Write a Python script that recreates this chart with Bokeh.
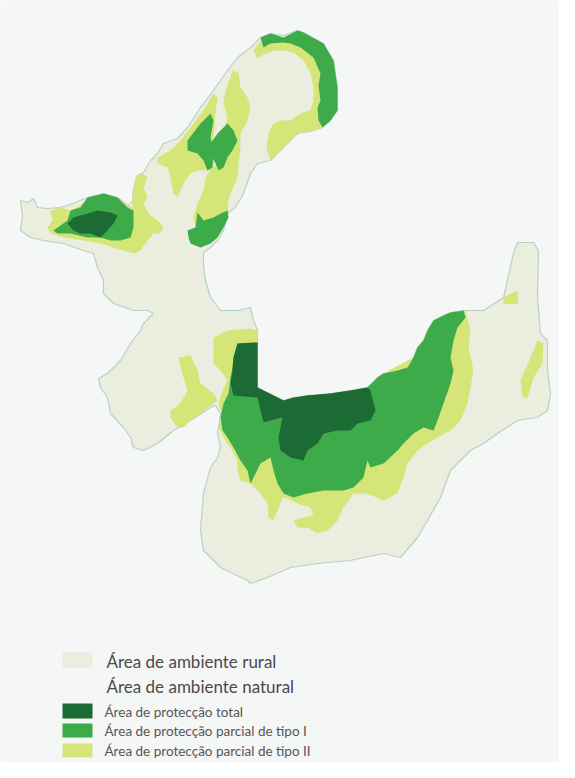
from bokeh.plotting import figure
from bokeh.models import Range1d
from bokeh.core.properties import value
from bokeh.embed import file_html
from bokeh.resources import INLINE

# outline of the whole area (picture coordinates, y grows downwards)
land = [
    (20, 200), (27, 202), (33, 198), (37, 207), (47, 208), (60, 207), (72, 203), (87, 197),
    (103, 193), (117, 197), (128, 205), (132, 200), (133, 190), (137, 175), (143, 172),
    (150, 160), (157, 153), (163, 143), (177, 138), (187, 127), (200, 107), (213, 90),
    (227, 70), (237, 57), (250, 47), (260, 37), (270, 33), (283, 35), (297, 30), (303, 32),
    (323, 43), (333, 60), (337, 87), (337, 110), (330, 120), (322, 127), (310, 131),
    (297, 133), (287, 143), (277, 153), (270, 160), (257, 163), (250, 173), (243, 193),
    (235, 207), (227, 213), (223, 230), (217, 240), (210, 247), (203, 252), (203, 265),
    (205, 280), (210, 297), (220, 310), (237, 310), (250, 307), (253, 320), (257, 330),
    (257, 387), (263, 390), (283, 400), (293, 397), (307, 395), (330, 393), (350, 390),
    (367, 387), (377, 377), (383, 373), (397, 370), (407, 367), (413, 357), (417, 347),
    (423, 340), (427, 330), (433, 320), (443, 315), (450, 312), (463, 310), (483, 310),
    (503, 297), (513, 253), (517, 242), (533, 242), (538, 250), (537, 297), (540, 333),
    (547, 340), (547, 370), (550, 393), (547, 410), (537, 417), (517, 420), (497, 433),
    (483, 443), (470, 450), (450, 470), (440, 497), (427, 520), (417, 537), (400, 557),
    (383, 553), (350, 560), (317, 563), (290, 567), (267, 577), (250, 583), (247, 580),
    (220, 567), (203, 550), (200, 530), (203, 493), (210, 467), (217, 457), (220, 447),
    (217, 433), (220, 413), (215, 405), (210, 407), (190, 420), (173, 430), (157, 443),
    (143, 450), (133, 447), (130, 437), (123, 427), (110, 413), (107, 397), (100, 387),
    (98, 378), (107, 373), (120, 360), (130, 343), (140, 330), (143, 323), (153, 313),
    (147, 310), (133, 310), (113, 303), (103, 293), (103, 280), (97, 267), (93, 253),
    (83, 250), (63, 243), (43, 240), (30, 237), (20, 230), (22, 215),
]

# partial protection type II (light)
tipo2_west = [
    (50, 210), (60, 207), (70, 210), (83, 203), (87, 197), (103, 193), (117, 197),
    (127, 205), (132, 207), (132, 190), (135, 177), (142, 173), (147, 177), (143, 187),
    (147, 197), (143, 203), (148, 213), (157, 220), (163, 227), (160, 233), (153, 233),
    (147, 240), (140, 250), (133, 253), (123, 250), (113, 247), (100, 243), (83, 240),
    (63, 237), (50, 233), (47, 227), (52, 220),
]
tipo2_strip1 = [
    (213, 93), (217, 97), (215, 113), (213, 137), (215, 153), (212, 170), (203, 170),
    (197, 170), (190, 173), (183, 183), (177, 197), (173, 193), (170, 177), (167, 167),
    (157, 163), (157, 157), (170, 150), (180, 140), (190, 127), (203, 110),
]
tipo2_strip2 = [
    (232, 70), (238, 72), (240, 87), (247, 97), (250, 107), (247, 120), (240, 133),
    (240, 147), (238, 163), (237, 177), (230, 193), (227, 203), (228, 213), (223, 227),
    (217, 237), (210, 243), (200, 247), (190, 243), (187, 230), (195, 227), (193, 217),
    (197, 203), (203, 190), (205, 177), (210, 170), (217, 163), (220, 150), (222, 133),
    (227, 117), (223, 103), (225, 90), (230, 77),
]
tipo2_northeast = [
    (253, 50), (260, 40), (277, 38), (297, 38), (310, 48), (318, 62), (322, 80), (320, 100),
    (320, 115), (322, 127), (310, 131), (297, 133), (287, 143), (277, 153), (270, 160),
    (266, 147), (268, 133), (273, 123), (280, 120), (290, 120), (300, 113), (310, 110),
    (313, 100), (313, 87), (310, 73), (303, 60), (293, 52), (283, 50), (273, 50), (263, 54),
    (257, 58),
]
tipo2_middle = [
    (178, 357), (190, 355), (197, 370), (200, 383), (213, 393), (217, 400), (200, 413),
    (190, 420), (183, 427), (177, 427), (170, 417), (170, 410), (180, 403), (187, 390),
    (183, 377), (180, 367),
]
tipo2_south = [
    (213, 337), (227, 330), (250, 328), (257, 330), (257, 387), (283, 400), (330, 393),
    (367, 387), (383, 373), (413, 357), (427, 330), (443, 315), (465, 310), (470, 330),
    (468, 347), (473, 370), (470, 387), (467, 403), (460, 420), (450, 430), (437, 437),
    (427, 443), (417, 450), (407, 463), (403, 477), (397, 493), (383, 500), (367, 493),
    (353, 493), (343, 507), (337, 520), (327, 530), (317, 533), (307, 527), (297, 527),
    (293, 520), (303, 517), (313, 515), (310, 507), (297, 503), (287, 498), (282, 497),
    (277, 510), (273, 520), (268, 517), (267, 503), (260, 493), (250, 483), (240, 480),
    (237, 470), (237, 460), (230, 447), (223, 437), (218, 427), (222, 417), (218, 403),
    (222, 390), (227, 380), (220, 370), (213, 363),
]
tipo2_east_a = [(503, 297), (517, 290), (518, 303), (503, 304)]
tipo2_east_b = [
    (520, 380), (530, 357), (537, 340), (543, 343), (542, 363), (533, 377), (527, 397),
    (522, 397),
]

# partial protection type I (medium)
tipo1_west = [
    (53, 230), (67, 220), (70, 210), (80, 207), (87, 197), (103, 193), (117, 197),
    (127, 207), (133, 210), (133, 227), (130, 237), (120, 240), (110, 240), (100, 237),
    (87, 237), (70, 233), (57, 233),
]
tipo1_left = [
    (187, 140), (200, 123), (210, 113), (213, 120), (210, 137), (213, 150), (212, 167),
    (207, 170), (203, 160), (197, 153), (187, 150),
]
tipo1_right = [
    (210, 143), (217, 133), (227, 123), (233, 130), (237, 140), (232, 150), (227, 157),
    (223, 167), (218, 170), (215, 163), (212, 157),
]
tipo1_bottom = [
    (197, 212), (203, 220), (213, 217), (220, 213), (227, 210), (228, 217), (223, 227),
    (217, 237), (210, 243), (200, 247), (190, 243), (188, 237), (187, 230), (195, 227),
]
tipo1_northeast = [
    (260, 37), (270, 33), (283, 37), (297, 30), (303, 32), (323, 43), (333, 60), (337, 87),
    (337, 110), (330, 120), (322, 127), (318, 120), (317, 107), (320, 100), (318, 85),
    (320, 73), (313, 57), (300, 47), (290, 43), (283, 42), (270, 43), (263, 47),
]
tipo1_south = [
    (463, 310), (465, 317), (457, 327), (453, 340), (450, 357), (453, 370), (450, 383),
    (443, 403), (437, 420), (433, 430), (423, 427), (413, 433), (403, 443), (397, 450),
    (383, 463), (370, 467), (367, 460), (363, 477), (353, 487), (343, 490), (323, 490),
    (307, 493), (293, 497), (283, 493), (277, 483), (273, 470), (270, 457), (260, 463),
    (253, 477), (250, 483), (247, 470), (240, 460), (233, 447), (227, 437), (222, 430),
    (220, 417), (223, 403), (228, 393), (230, 377), (232, 367), (233, 357), (237, 343),
    (257, 342), (257, 387), (283, 400), (307, 395), (330, 393), (350, 390), (367, 387),
    (377, 377), (383, 373), (397, 370), (407, 367), (413, 357), (417, 347), (423, 340),
    (427, 330), (433, 320), (443, 315), (450, 312),
]

# total protection (dark)
total_west = [
    (67, 223), (73, 217), (87, 213), (97, 210), (110, 212), (117, 215), (113, 223),
    (107, 230), (100, 237), (90, 233), (80, 233), (73, 230),
]
total_south = [
    (237, 343), (257, 342), (257, 387), (263, 390), (283, 400), (293, 397), (307, 395),
    (330, 393), (350, 390), (367, 387), (370, 390), (375, 410), (370, 420), (357, 423),
    (350, 430), (337, 430), (323, 433), (317, 443), (307, 450), (303, 460), (290, 457),
    (280, 450), (278, 437), (282, 417), (277, 418), (263, 422), (260, 410), (257, 397),
    (233, 395), (230, 383), (232, 370), (233, 357),
]

legend_labels = [
    "Área de ambiente rural",
    "Área de ambiente natural",
    "Área de protecção total",
    "Área de protecção parcial de tipo I",
    "Área de protecção parcial de tipo II",
]

BG = "#f5f6f6"
RURAL = "#ebeddf"
DARK = "#1d6b34"
MEDIUM = "#3dab4a"
LIGHT = "#d5e578"
EDGE = "#b6d2c5"


def split(points):
    return [p[0] for p in points], [p[1] for p in points]


def add_group(fig, polys, color, **kw):
    xs, ys = zip(*[split(poly) for poly in polys])
    fig.patches(xs=list(xs), ys=list(ys), fill_color=color, **kw)


p = figure(width=559, height=762, output_backend="svg", toolbar_location=None,
           x_range=Range1d(0, 559), y_range=Range1d(762, 0),
           min_border=0, background_fill_color=BG, border_fill_color=BG)
p.axis.visible = False
p.grid.visible = False
p.outline_line_color = None

lx, ly = split(land)
p.patch(lx, ly, fill_color=RURAL, line_color=EDGE, line_width=1.2)

add_group(p, [tipo2_west, tipo2_strip1, tipo2_strip2, tipo2_northeast, tipo2_middle,
              tipo2_south, tipo2_east_a, tipo2_east_b], LIGHT, line_color=None)
add_group(p, [tipo1_west, tipo1_left, tipo1_right, tipo1_bottom, tipo1_northeast,
              tipo1_south], MEDIUM, line_color=None)
add_group(p, [total_west, total_south], DARK, line_color=None)

# legend, drawn by hand since the two first labels are bigger
p.quad(left=[62, 62, 62, 62], right=[92, 92, 92, 92],
       top=[652, 703, 723, 743], bottom=[667, 718, 737, 757],
       fill_color=[RURAL, DARK, MEDIUM, LIGHT], line_color=None)
p.text(x=[106, 106], y=[661, 686], text=legend_labels[:2],
       text_font=value("Lato"), text_font_size="17px",
       text_baseline="middle", text_color="#4a4a4a")
p.text(x=[104, 104, 104], y=[711, 730, 750], text=legend_labels[2:],
       text_font=value("Lato"), text_font_size="13.5px",
       text_baseline="middle", text_color="#555555")

open("out.html", "w").write(file_html(p, INLINE))
